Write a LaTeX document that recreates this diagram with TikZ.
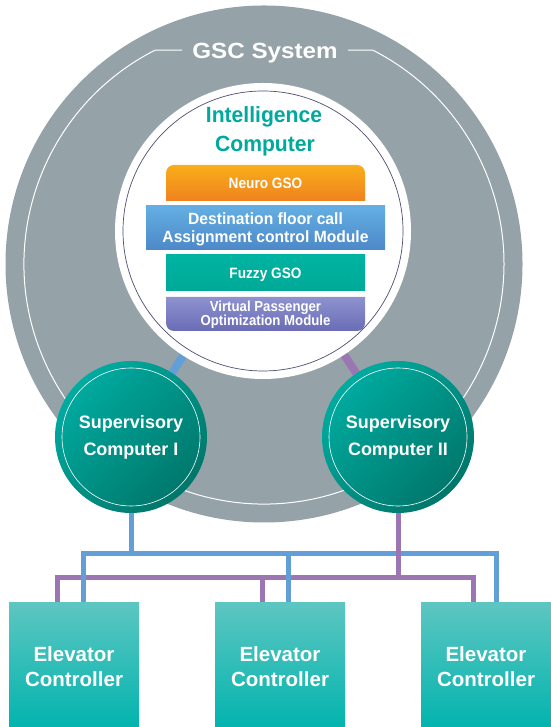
\documentclass[tikz,border=0pt]{standalone}
\usepackage{fontspec}
\setmainfont{Liberation Sans}
\newfontfamily\fW[FakeStretch=1.1]{Liberation Sans}
\newfontfamily\fA[FakeStretch=0.96]{Liberation Sans}
\newfontfamily\fB[FakeStretch=0.91]{Liberation Sans}
\definecolor{gscgray}{HTML}{95A2A8}
\definecolor{tealtext}{HTML}{00A99D}
\definecolor{neuroT}{HTML}{F9AE1B}
\definecolor{neuroB}{HTML}{F0821E}
\definecolor{destT}{HTML}{63AFE3}
\definecolor{destB}{HTML}{4D88C8}
\definecolor{fuzzyT}{HTML}{00B3A2}
\definecolor{fuzzyB}{HTML}{00A997}
\definecolor{vpT}{HTML}{8E92CF}
\definecolor{vpB}{HTML}{6A6CB5}
\definecolor{supT}{HTML}{00ABA0}
\definecolor{supB}{HTML}{00766A}
\definecolor{ecT}{HTML}{5DC6C2}
\definecolor{ecB}{HTML}{00B3AD}
\definecolor{linkblue}{HTML}{639FD7}
\definecolor{linkpurple}{HTML}{9C76B2}
\definecolor{ringdark}{HTML}{4B4F73}
\tikzset{
  link/.style={line width=8pt},
  bus/.style={line width=5pt, line join=miter},
  modtxt/.style={text=white, anchor=base, inner sep=0pt},
  supc/.style={circle, minimum size=152pt, inner sep=0pt, top color=supT, bottom color=supB, shading angle=45, text=white, align=center, font=\bfseries\fontsize{18}{27}\selectfont},
  ecbox/.style={rectangle, minimum width=130pt, minimum height=128.4pt, inner sep=0pt, top color=ecT, bottom color=ecB, text=white, align=center, font=\bfseries\fontsize{20.5}{24.5}\selectfont}
}
\begin{document}
\begin{tikzpicture}[x=1pt,y=1pt]
\useasboundingbox (0,0) rectangle (550,727);
% outer GSC system disc
\node[circle, fill=gscgray, minimum size=517pt, inner sep=0pt] (gsc) at (264,463) {};
\draw[white, line width=1pt] (182,676.8) -- (155,676.8) arc[start angle=117, end angle=423, radius=240] -- (348,676.8);
\node[font=\fW\bfseries\fontsize{22}{26}\selectfont, text=white, anchor=base, inner sep=0pt] (title) at (265,668.7) {GSC System};
% connectors to supervisory computers
\coordinate (icc) at (263,496);
\coordinate (s1c) at (131,290);
\coordinate (s2c) at (398,290);
\draw[link, linkblue] (icc) -- (s1c);
\draw[link, linkpurple] (icc) -- (s2c);
% intelligence computer
\node[circle, fill=white, minimum size=296pt, inner sep=0pt] (ic) at (icc) {};
\draw[ringdark, line width=0.7pt] (ic.center) circle[radius=140pt];
\node[font=\fA\bfseries\fontsize{22}{29}\selectfont, text=tealtext, anchor=base, inner sep=0pt] (ict1) at (264,604) {Intelligence};
\node[font=\fA\bfseries\fontsize{22}{29}\selectfont, text=tealtext, anchor=base, inner sep=0pt] (ict2) at (265,575) {Computer};
% modules
\shade[top color=neuroT, bottom color=neuroB] (166,526) -- (166,554) arc[start angle=180, end angle=90, radius=8] -- (357,562) arc[start angle=90, end angle=0, radius=8] -- (365,526) -- cycle;
\node[modtxt, font=\fB\bfseries\fontsize{15}{18}\selectfont] (neuro) at (265.5,538.6) {Neuro GSO};
\shade[top color=destT, bottom color=destB] (146,477) rectangle (385,521);
\node[modtxt, font=\fA\bfseries\fontsize{16.3}{18.4}\selectfont] (dest1) at (265.5,502.7) {Destination floor call};
\node[modtxt, font=\fA\bfseries\fontsize{16.3}{18.4}\selectfont] (dest2) at (265.5,484.3) {Assignment control Module};
\shade[top color=fuzzyT, bottom color=fuzzyB] (166,436) rectangle (365,472);
\node[modtxt, font=\fB\bfseries\fontsize{15}{18}\selectfont] (fuzzy) at (265.5,448.6) {Fuzzy GSO};
\shade[top color=vpT, bottom color=vpB] (166,430) -- (365,430) -- (365,404) arc[start angle=0, end angle=-90, radius=8] -- (174,396) arc[start angle=270, end angle=180, radius=8] -- cycle;
\node[modtxt, font=\fB\bfseries\fontsize{14.5}{14}\selectfont] (vp1) at (265.5,415.3) {Virtual Passenger};
\node[modtxt, font=\fB\bfseries\fontsize{14.5}{14}\selectfont] (vp2) at (265.5,401.7) {Optimization Module};
% supervisory computers
\node[supc] (sup1) at (s1c) {Supervisory\\Computer I};
\node[supc] (sup2) at (s2c) {Supervisory\\Computer II};
\draw[white, line width=0.6pt] (sup1.center) circle[radius=69pt];
\draw[white, line width=0.6pt] (sup2.center) circle[radius=69pt];
% elevator controllers
\node[ecbox] (ec1) at (74,60.2) {Elevator\\Controller};
\node[ecbox] (ec2) at (280,60.2) {Elevator\\Controller};
\node[ecbox] (ec3) at (486,60.2) {Elevator\\Controller};
% buses
\coordinate (bj) at (131,173);
\coordinate (pj) at (398,149.5);
\draw[bus, linkpurple] ([xshift=-17pt]ec1.north) |- ([xshift=-12.5pt]ec3.north |- pj) -- ([xshift=-12.5pt]ec3.north);
\draw[bus, linkpurple] ([xshift=-18pt]ec2.north) -- ([xshift=-18pt]ec2.north |- pj);
\draw[bus, linkblue] ([xshift=9pt]ec1.north) |- ([xshift=10pt]ec3.north |- bj) -- ([xshift=10pt]ec3.north);
\draw[bus, linkblue] ([xshift=8pt]ec2.north) -- ([xshift=8pt]ec2.north |- bj);
\draw[bus, linkblue] (sup1.south) -- (bj);
\draw[bus, linkpurple] (sup2.south) -- (pj);
\end{tikzpicture}
\end{document}
